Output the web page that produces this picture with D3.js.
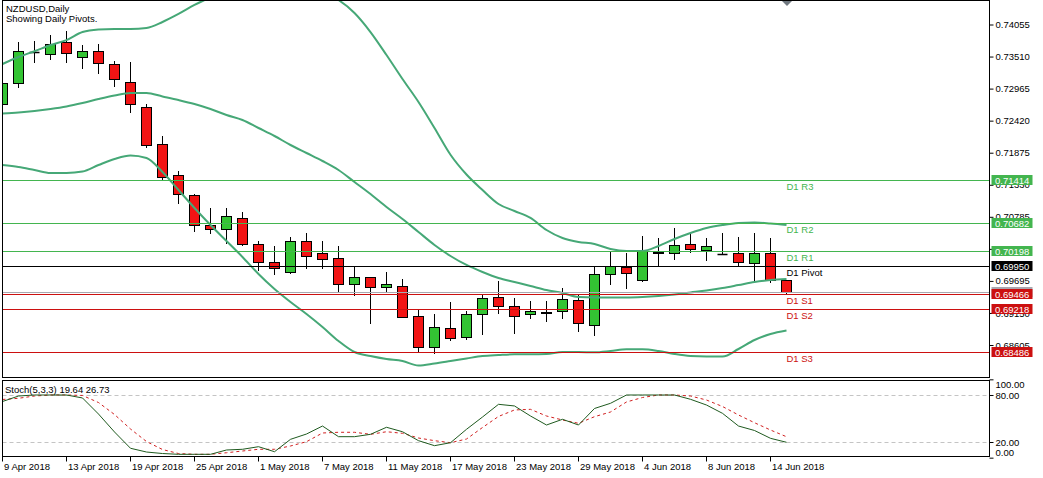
<!DOCTYPE html>
<html>
<head>
<meta charset="utf-8">
<script src="https://cdn.jsdelivr.net/npm/d3@7"></script>
<style>
  body { margin: 0; background: #fff; }
  svg { display: block; font-family: "Liberation Sans", Arial, sans-serif; }
</style>
</head>
<body>
<div id="chart"></div>
<script>
/* NZDUSD daily with Bollinger bands, daily pivots and Stochastic */

const width = 1043;
const height = 478;

// trading days on screen
const dates = [
  "2018-04-09","2018-04-10","2018-04-11","2018-04-12","2018-04-13",
  "2018-04-16","2018-04-17","2018-04-18","2018-04-19","2018-04-20",
  "2018-04-23","2018-04-24","2018-04-25","2018-04-26","2018-04-27",
  "2018-04-30","2018-05-01","2018-05-02","2018-05-03","2018-05-04",
  "2018-05-07","2018-05-08","2018-05-09","2018-05-10","2018-05-11",
  "2018-05-14","2018-05-15","2018-05-16","2018-05-17","2018-05-18",
  "2018-05-21","2018-05-22","2018-05-23","2018-05-24","2018-05-25",
  "2018-05-28","2018-05-29","2018-05-30","2018-05-31","2018-06-01",
  "2018-06-04","2018-06-05","2018-06-06","2018-06-07","2018-06-08",
  "2018-06-11","2018-06-12","2018-06-13","2018-06-14","2018-06-15"
];

const open = [
  0.72703,0.73055,0.73579,0.73548,0.73752,0.73497,0.73610,0.73378,0.73082,0.72647,
  0.72018,0.71491,0.71156,0.70641,0.70583,0.70760,0.70318,0.70012,0.69841,0.70379,
  0.70175,0.70080,0.69637,0.69756,0.69586,0.69609,0.69093,0.68566,0.68889,0.68736,
  0.69127,0.69416,0.69274,0.69127,0.69172,0.69189,0.69370,0.68945,0.69812,0.69932,
  0.69711,0.70175,0.70175,0.70323,0.70221,0.70148,0.70175,0.69994,0.70175,0.69711
];
const high = [
  0.73094,0.73752,0.73774,0.73877,0.73936,0.73706,0.73723,0.73434,0.73412,0.72703,
  0.72159,0.71564,0.71168,0.70930,0.70930,0.70872,0.70379,0.70289,0.70437,0.70505,
  0.70382,0.70289,0.69937,0.69760,0.69841,0.69722,0.69200,0.69127,0.69342,0.69189,
  0.69472,0.69699,0.69410,0.69353,0.69353,0.69569,0.69472,0.69949,0.70204,0.70170,
  0.70459,0.70430,0.70590,0.70505,0.70419,0.70505,0.70437,0.70515,0.70419,0.69711
];
const low = [
  0.72686,0.72997,0.73422,0.73463,0.73422,0.73310,0.73235,0.73014,0.72572,0.71977,
  0.71411,0.71025,0.70549,0.70515,0.70345,0.70306,0.69881,0.69812,0.69830,0.69909,
  0.69909,0.69501,0.69455,0.68984,0.69501,0.69076,0.68508,0.68474,0.68690,0.68702,
  0.68792,0.69154,0.68814,0.69059,0.69018,0.69069,0.68848,0.68775,0.69643,0.69566,
  0.69685,0.69949,0.70068,0.70192,0.70051,0.70148,0.69954,0.69693,0.69682,0.69472
];
const close = [
  0.73055,0.73610,0.73579,0.73723,0.73565,0.73610,0.73395,0.73123,0.72703,0.72006,
  0.71457,0.71168,0.70641,0.70583,0.70799,0.70318,0.70012,0.69909,0.70379,0.70124,
  0.70073,0.69637,0.69756,0.69586,0.69643,0.69086,0.68566,0.68916,0.68719,0.69127,
  0.69410,0.69268,0.69098,0.69183,0.69144,0.69382,0.68974,0.69807,0.69943,0.69835,
  0.70204,0.70192,0.70306,0.70232,0.70289,0.70148,0.70022,0.70175,0.69711,0.69501
];

// Bollinger bands
const bbUpper = [
  0.73383,0.73502,0.73600,0.73706,0.73790,0.73927,0.73970,0.73979,0.73979,0.73996,
  0.74098,0.74234,0.74387,0.74523,0.74676,0.74778,0.74846,0.74846,0.74812,0.74727,
  0.74608,0.74472,0.74251,0.73927,0.73536,0.73128,0.72737,0.72295,0.71840,0.71504,
  0.71241,0.71003,0.70884,0.70765,0.70561,0.70425,0.70357,0.70323,0.70238,0.70204,
  0.70204,0.70289,0.70408,0.70510,0.70595,0.70646,0.70680,0.70688,0.70671,0.70646
];
const bbMiddle = [
  0.72542,0.72559,0.72584,0.72618,0.72661,0.72720,0.72788,0.72848,0.72890,0.72890,
  0.72831,0.72771,0.72703,0.72618,0.72516,0.72431,0.72295,0.72159,0.72006,0.71870,
  0.71734,0.71581,0.71377,0.71173,0.70952,0.70748,0.70527,0.70306,0.70119,0.69966,
  0.69847,0.69745,0.69677,0.69609,0.69540,0.69489,0.69421,0.69413,0.69413,0.69413,
  0.69421,0.69438,0.69464,0.69498,0.69532,0.69574,0.69625,0.69677,0.69711,0.69728
];
const bbLower = [
  0.71666,0.71632,0.71581,0.71530,0.71530,0.71555,0.71666,0.71768,0.71828,0.71785,
  0.71547,0.71241,0.70935,0.70646,0.70374,0.70102,0.69812,0.69557,0.69336,0.69132,
  0.68911,0.68673,0.68486,0.68418,0.68367,0.68333,0.68257,0.68291,0.68333,0.68376,
  0.68418,0.68435,0.68447,0.68447,0.68452,0.68486,0.68486,0.68481,0.68503,0.68532,
  0.68532,0.68503,0.68452,0.68418,0.68410,0.68410,0.68537,0.68690,0.68792,0.68852
];

// Stochastic %K (main) and %D (signal)
const stochK = [
  71.7,78.7,80,80,80,76.2,55.7,32.8,12.0,7.2,
  5.3,4.3,4.3,4.3,9.8,10.7,14.0,7.6,23.4,30.2,
  40.4,26.8,26.8,29.8,38.8,33.1,21.7,15.3,19.1,36.2,
  51.9,68.1,66.0,53.2,41.7,49.0,41.7,62.8,69.4,80,
  80,80,80,74.5,67.2,56.6,40.4,34.7,24.7,19.64
];
const stochD = [
  74.3,75.8,78.7,80,80,79.4,70.4,55.1,36.6,20.6,
  10.4,5.3,4.3,4.3,6.3,8.5,10.7,10.7,14.9,20.4,
  31.5,32.4,32.4,29.8,33.1,31.1,25.1,21.7,19.1,23.8,
  38.5,52.6,60.9,61.7,53.2,48.1,43.9,52.3,58.3,71.1,
  76.8,80,80,78.7,73.6,65.3,54.5,44.6,35.3,26.73
];

// daily pivots
const pivotNames = ["D1 R3", "D1 R2", "D1 R1", "D1 Pivot", "D1 S1", "D1 S2", "D1 S3"];
const pivotValues = [0.71414, 0.70682, 0.70198, 0.69950, 0.69466, 0.69218, 0.68486];
const pivotKinds = ["r", "r", "r", "p", "s", "s", "s"];
const bid = 0.69501;

// axis ticks
const priceTicks = [0.74055, 0.73510, 0.72965, 0.72420, 0.71875, 0.71330,
                    0.70785, 0.70240, 0.69695, 0.69150, 0.68605];
const dateTicks = ["2018-04-09","2018-04-13","2018-04-19","2018-04-25","2018-05-01",
                   "2018-05-07","2018-05-11","2018-05-17","2018-05-23","2018-05-29",
                   "2018-06-04","2018-06-08","2018-06-14"];
const dateTickLabels = ["9 Apr 2018","13 Apr 2018","19 Apr 2018","25 Apr 2018","1 May 2018",
                        "7 May 2018","11 May 2018","17 May 2018","23 May 2018","29 May 2018",
                        "4 Jun 2018","8 Jun 2018","14 Jun 2018"];
const stochLevels = [80, 20];
const stochTicks = [100, 80, 20, 0];

const colors = {
  up: "#33c433",
  down: "#f21414",
  band: "#46a877",
  res: "#43b54f",
  sup: "#cc1010",
  kLine: "#1f5a1f",
  dLine: "#d02020"
};

// panel geometry
const left = 2.5, right = 989.5;
const mainTop = 0.5, mainBottom = 377.5;
const stTop = 380.5, stBottom = 456.5;

const svg = d3.select("#chart")
  .append("svg")
  .attr("width", width)
  .attr("height", height);

svg.append("rect").attr("width", width).attr("height", height).attr("fill", "#fff");

/************************************************
 * Scales                                       *
 ************************************************/
const x = d3.scaleBand()
  .domain(dates)
  .range([-5.5, -5.5 + 16 * dates.length])
  .padding(0);
const cx = d => x(d) + x.bandwidth() / 2;

const y = d3.scaleLinear()
  .domain([0.680611, 0.744546])
  .range([377, 1]);
const py = v => Math.round(y(v)) + 0.5;

const ys = d3.scaleLinear()
  .domain([0, 100])
  .range([457.67, 379.33]);

const defs = svg.append("defs");
defs.append("clipPath").attr("id", "clipMain")
  .append("rect").attr("x", left).attr("y", mainTop).attr("width", right - left).attr("height", mainBottom - mainTop);
defs.append("clipPath").attr("id", "clipStoch")
  .append("rect").attr("x", left).attr("y", stTop).attr("width", right - left).attr("height", stBottom - stTop);

const main = svg.append("g").attr("clip-path", "url(#clipMain)");

/************************************************
 * Candles                                      *
 ************************************************/
const candles = dates.map((d, i) => ({ d, o: open[i], h: high[i], l: low[i], c: close[i] }));

main.selectAll("line.wick")
  .data(candles)
  .enter()
  .append("line")
  .attr("class", "wick")
  .attr("x1", d => cx(d.d)).attr("x2", d => cx(d.d))
  .attr("y1", d => Math.round(y(d.h)))
  .attr("y2", d => Math.round(y(d.l)) + 1)
  .attr("stroke", "#000")
  .attr("stroke-width", 1);

main.selectAll("rect.body")
  .data(candles.filter(d => d.o !== d.c))
  .enter()
  .append("rect")
  .attr("class", "body")
  .attr("x", d => cx(d.d) - 5)
  .attr("width", 10)
  .attr("y", d => py(Math.max(d.o, d.c)))
  .attr("height", d => Math.max(1, py(Math.min(d.o, d.c)) - py(Math.max(d.o, d.c))))
  .attr("fill", d => d.c > d.o ? colors.up : colors.down)
  .attr("stroke", "#000")
  .attr("stroke-width", 1);

main.selectAll("line.doji")
  .data(candles.filter(d => d.o === d.c))
  .enter()
  .append("line")
  .attr("class", "doji")
  .attr("x1", d => cx(d.d) - 5).attr("x2", d => cx(d.d) + 5)
  .attr("y1", d => py(d.o)).attr("y2", d => py(d.o))
  .attr("stroke", "#000")
  .attr("stroke-width", 1.5);

/************************************************
 * Bollinger bands                              *
 ************************************************/
const bandLine = d3.line()
  .x((v, i) => cx(dates[i]))
  .y(v => y(v))
  .curve(d3.curveMonotoneX);

[bbUpper, bbMiddle, bbLower].forEach(series => {
  main.append("path")
    .attr("d", bandLine(series))
    .attr("fill", "none")
    .attr("stroke", colors.band)
    .attr("stroke-width", 2);
});

/************************************************
 * Pivot lines                                  *
 ************************************************/
const lineColor = k => k === "r" ? colors.res : k === "s" ? colors.sup : "#000";

main.append("line")
  .attr("x1", left).attr("x2", right)
  .attr("y1", py(bid)).attr("y2", py(bid))
  .attr("stroke", "#a8a8b0");

main.selectAll("line.pivot")
  .data(pivotValues)
  .enter()
  .append("line")
  .attr("class", "pivot")
  .attr("x1", left).attr("x2", right)
  .attr("y1", v => py(v)).attr("y2", v => py(v))
  .attr("stroke", (v, i) => lineColor(pivotKinds[i]))
  .attr("stroke-width", 1);

main.selectAll("text.pname")
  .data(pivotValues)
  .enter()
  .append("text")
  .attr("class", "pname")
  .attr("x", cx(dates[dates.length - 1]))
  .attr("y", v => py(v) + 9)
  .attr("font-size", 9.5)
  .attr("fill", (v, i) => lineColor(pivotKinds[i]))
  .text((v, i) => pivotNames[i]);

// shift marker
svg.append("path")
  .attr("d", "M781,0 L793,0 L787,6 Z")
  .attr("fill", "#707880");

/************************************************
 * Price axis                                   *
 ************************************************/
const yAxis = svg.append("g")
  .attr("transform", `translate(${right},0)`)
  .call(d3.axisRight(y).tickValues(priceTicks).tickSize(4).tickPadding(2).tickFormat(d3.format(".5f")));
yAxis.select(".domain").remove();
yAxis.selectAll(".tick line").attr("stroke", "#000");
yAxis.selectAll(".tick text").attr("font-size", 9.5).attr("fill", "#000").attr("font-family", "Liberation Sans, Arial, sans-serif");

// price boxes on the axis
const boxes = [{ v: bid, bg: "#a8a8b0" }].concat(
  pivotValues.map((v, i) => ({ v, bg: pivotKinds[i] === "r" ? colors.res : pivotKinds[i] === "s" ? colors.sup : "#000" }))
);
const boxG = svg.selectAll("g.pbox")
  .data(boxes)
  .enter()
  .append("g")
  .attr("class", "pbox")
  .attr("transform", d => `translate(${right + 2},${Math.round(y(d.v))})`);
boxG.append("rect")
  .attr("x", 0).attr("y", -5).attr("width", 41).attr("height", 10)
  .attr("fill", d => d.bg);
boxG.append("text")
  .attr("x", 3.5).attr("y", 3.7)
  .attr("font-size", 9.5)
  .attr("fill", "#fff")
  .text(d => d3.format(".5f")(d.v));

/************************************************
 * Stochastic panel                             *
 ************************************************/
const st = svg.append("g").attr("clip-path", "url(#clipStoch)");

st.selectAll("line.level")
  .data(stochLevels)
  .enter()
  .append("line")
  .attr("class", "level")
  .attr("x1", left).attr("x2", right)
  .attr("y1", v => Math.round(ys(v)) + 0.5).attr("y2", v => Math.round(ys(v)) + 0.5)
  .attr("stroke", "#c4c4c4")
  .attr("stroke-dasharray", "4,3");

const stLine = d3.line()
  .x((v, i) => cx(dates[i]))
  .y(v => ys(v));

st.append("path")
  .attr("d", stLine(stochD))
  .attr("fill", "none")
  .attr("stroke", colors.dLine)
  .attr("stroke-dasharray", "3,3");

st.append("path")
  .attr("d", stLine(stochK))
  .attr("fill", "none")
  .attr("stroke", colors.kLine)
  .attr("stroke-width", 1);

svg.append("text")
  .attr("x", 5).attr("y", 393)
  .attr("font-size", 9.5)
  .text(`Stoch(5,3,3) ${stochK[stochK.length - 1].toFixed(2)} ${stochD[stochD.length - 1].toFixed(2)}`);

const sAxis = svg.append("g")
  .attr("transform", `translate(${right},0)`)
  .call(d3.axisRight(ys).tickValues(stochTicks).tickSize(4).tickPadding(2).tickFormat(d3.format(".2f")));
sAxis.select(".domain").remove();
sAxis.selectAll(".tick line").attr("stroke", "#000");
sAxis.selectAll(".tick text")
  .attr("font-size", 9.5)
  .attr("font-family", "Liberation Sans, Arial, sans-serif")
  .attr("fill", "#000")
  .attr("y", v => v === 100 ? 5 : v === 0 ? -5 : 0);

/************************************************
 * Date axis                                    *
 ************************************************/
const xAxis = svg.append("g")
  .attr("transform", `translate(0,${stBottom})`)
  .call(d3.axisBottom(x).tickValues(dateTicks).tickSize(5).tickPadding(2)
    .tickFormat((d, i) => dateTickLabels[i]));
xAxis.select(".domain").remove();
xAxis.selectAll(".tick line").attr("stroke", "#000");
xAxis.selectAll(".tick text")
  .attr("text-anchor", "start")
  .attr("x", 1.5)
  .attr("font-size", 9.5)
  .attr("font-family", "Liberation Sans, Arial, sans-serif")
  .attr("fill", "#000");

/************************************************
 * Frames and title                             *
 ************************************************/
svg.append("rect")
  .attr("x", left).attr("y", mainTop).attr("width", right - left).attr("height", mainBottom - mainTop)
  .attr("fill", "none").attr("stroke", "#000");
svg.append("rect")
  .attr("x", left).attr("y", stTop).attr("width", right - left).attr("height", stBottom - stTop)
  .attr("fill", "none").attr("stroke", "#000");

svg.append("text").attr("x", 6).attr("y", 11.5).attr("font-size", 9.5).text("NZDUSD,Daily");
svg.append("text").attr("x", 6).attr("y", 22).attr("font-size", 9.5).text("Showing Daily Pivots.");
</script>
</body>
</html>
